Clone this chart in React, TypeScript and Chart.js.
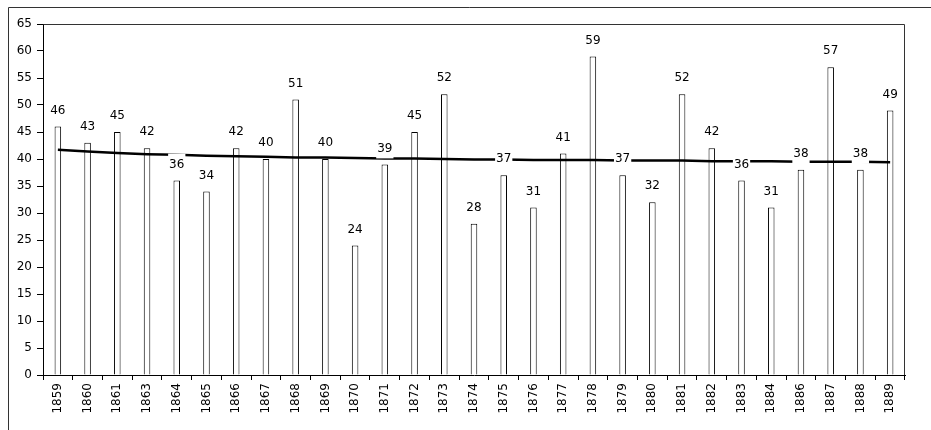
import React, { useEffect, useRef } from "react";
import { Chart, registerables } from "chart.js";
Chart.register(...registerables);

const years = [
  "1859", "1860", "1861", "1863", "1864", "1865", "1866", "1867", "1868", "1869",
  "1870", "1871", "1872", "1873", "1874", "1875", "1876", "1877", "1878", "1879",
  "1880", "1881", "1882", "1883", "1884", "1886", "1887", "1888", "1889",
];
const counts = [
  46, 43, 45, 42, 36, 34, 42, 40, 51, 40,
  24, 39, 45, 52, 28, 37, 31, 41, 59, 37,
  32, 52, 42, 36, 31, 38, 57, 38, 49,
];
const trend = [
  41.7, 41.4, 41.1, 40.9, 40.8, 40.6, 40.5, 40.4, 40.3, 40.3,
  40.2, 40.1, 40.1, 40.0, 39.9, 39.9, 39.8, 39.8, 39.8, 39.7,
  39.7, 39.7, 39.6, 39.6, 39.6, 39.5, 39.5, 39.5, 39.4,
];
const yMin = 0;
const yMax = 65;
const yStep = 5;

const FONT = "'DejaVu Sans'";

export default function App() {
  const ref = useRef<HTMLCanvasElement>(null);
  useEffect(() => {
    document.body.style.margin = "0";
    const canvas = ref.current!;
    const decor = {
      id: "decor",
      beforeDraw(chart: any) {
        const c = chart.ctx;
        c.save();
        c.fillStyle = "#ffffff";
        c.fillRect(0, 0, chart.width, chart.height);
        c.strokeStyle = "#333333";
        c.lineWidth = 1;
        c.beginPath();
        c.moveTo(8.5, chart.height);
        c.lineTo(8.5, 7.5);
        c.lineTo(chart.width, 7.5);
        c.stroke();
        c.restore();
      },
      afterDatasetsDraw(chart: any) {
        const c = chart.ctx;
        const a = chart.chartArea;
        c.save();
        c.strokeStyle = "#333333";
        c.lineWidth = 1;
        c.beginPath();
        c.moveTo(Math.round(a.left) + 0.5, Math.round(a.top) + 0.5);
        c.lineTo(Math.round(a.right) - 0.5, Math.round(a.top) + 0.5);
        c.lineTo(Math.round(a.right) - 0.5, Math.round(a.bottom));
        c.stroke();
        const meta = chart.getDatasetMeta(1);
        c.font = `12px ${FONT}`;
        c.textAlign = "center";
        c.textBaseline = "middle";
        meta.data.forEach((el: any, i: number) => {
          const txt = String(counts[i]);
          const w = c.measureText(txt).width;
          const cx = el.x;
          const cy = el.y - 16;
          c.fillStyle = "#ffffff";
          c.fillRect(cx - w / 2 - 1, cy - 11, w + 2, 21);
          c.fillStyle = "#000000";
          c.fillText(txt, cx, cy);
        });
        c.restore();
      },
    };
    const chart = new Chart(canvas, {
      type: "bar",
      data: {
        labels: years,
        datasets: [
          {
            type: "line",
            data: trend,
            borderColor: "#000000",
            borderWidth: 2.5,
            pointRadius: 0,
            tension: 0,
            fill: false,
            order: 0,
          } as any,
          {
            type: "bar",
            data: counts,
            backgroundColor: "#ffffff",
            borderColor: "#000000",
            borderWidth: 1,
            barPercentage: 0.22,
            categoryPercentage: 1,
            order: 1,
          },
        ],
      },
      options: {
        responsive: false,
        animation: false,
        events: [],
        layout: { padding: { left: 0, top: 24, right: 26, bottom: 0 } },
        plugins: { legend: { display: false }, tooltip: { enabled: false } },
        scales: {
          x: {
            offset: true,
            afterFit: (s: any) => { s.height = 55; },
            grid: {
              offset: true,
              drawOnChartArea: false,
              drawTicks: true,
              tickLength: 5,
              color: "#000000",
            },
            border: { display: true, color: "#000000", width: 1 },
            ticks: {
              autoSkip: false,
              minRotation: 90,
              maxRotation: 90,
              padding: 3,
              color: "#000000",
              font: { family: FONT, size: 12 },
            },
          },
          y: {
            min: yMin,
            max: yMax,
            afterFit: (s: any) => { s.width = 43; },
            grid: {
              drawOnChartArea: false,
              drawTicks: true,
              tickLength: 6,
              color: "#000000",
            },
            border: { display: true, color: "#000000", width: 1 },
            ticks: {
              stepSize: yStep,
              padding: 5,
              color: "#000000",
              font: { family: FONT, size: 12 },
            },
          },
        },
      },
      plugins: [decor],
    });
    return () => chart.destroy();
  }, []);
  return (
    <div style={{ width: 931, height: 430 }}>
      <canvas ref={ref} width={931} height={430} style={{ display: "block" }} />
    </div>
  );
}
